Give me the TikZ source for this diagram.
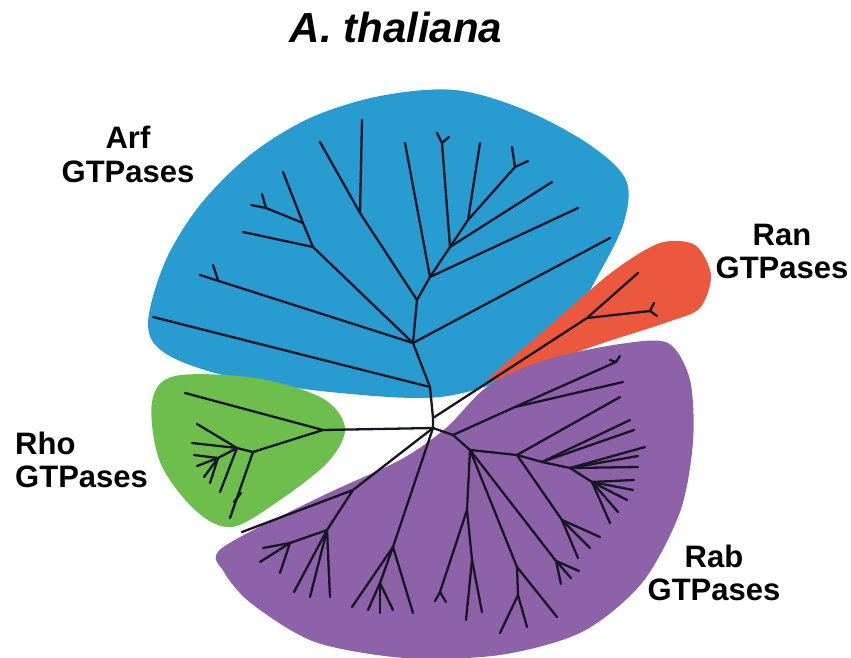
\documentclass[tikz,border=0pt]{standalone}
\usepackage{fontspec}
\setmainfont{Liberation Sans}
\usepackage{xcolor}
\usepackage{tikz}

\definecolor{arfblue}{RGB}{40,156,209}
\definecolor{ranred}{RGB}{236,88,62}
\definecolor{rhogreen}{RGB}{110,190,78}
\definecolor{rabpurple}{RGB}{141,98,168}
\definecolor{treeline}{RGB}{22,22,36}

\begin{document}
\begin{tikzpicture}[
  x=1pt, y=-1pt,
  blob/.style={draw=none},
  branch/.style={draw=treeline, line width=2.3pt, line cap=round, line join=round},
  label/.style={font=\fontsize{31}{33}\selectfont\bfseries, align=center, anchor=base, inner sep=0pt},
  title/.style={font=\fontsize{42}{44}\selectfont\bfseries\itshape, anchor=base, inner sep=0pt}
]
  \useasboundingbox (0,0) rectangle (851,658);

  % Blobs
  \fill[arfblue, blob] plot[smooth cycle, tension=0.55] coordinates {
    (148,325) (165,262) (200,205) (250,155) (310,118) (380,96) (455,90)
    (525,110) (590,145) (626,180) (624,222) (600,272) (565,330) (515,374)
    (440,397) (340,393) (235,378) (168,355)};
  \fill[ranred, blob] plot[smooth cycle, tension=0.5] coordinates {
    (488,380) (545,330) (612,272) (660,243) (695,245) (711,275) (700,308)
    (668,322) (600,344) (520,372)};
  \fill[rhogreen, blob] plot[smooth cycle, tension=0.55] coordinates {
    (152,402) (175,376) (255,378) (322,398) (345,428) (328,462) (280,500)
    (232,527) (195,510) (160,462)};
  \fill[rabpurple, blob] plot[smooth cycle, tension=0.5] coordinates {
    (222,548) (320,497) (400,460) (446,428) (488,386) (545,360) (620,344)
    (668,343) (690,380) (693,442) (680,512) (642,583) (582,632) (500,655)
    (405,658) (315,642) (252,604) (224,572)};

  % Labels
  \node[title] (ttl) at (396,43) {A. thaliana};
  \node[label] (arf) at (128,182) {Arf\\GTPases};
  \node[label] (ran) at (782,278) {Ran\\GTPases};
  \node[label, align=left, anchor=base west] (rho) at (15,487) {Rho\\GTPases};
  \node[label] (rab) at (714,600) {Rab\\GTPases};

  % Root
  \coordinate (r0) at (433,428);
  \coordinate (rr) at (433,418);
  \coordinate (a0) at (430,387);
  \draw[branch] (a0) -- (rr) -- (r0);

  % Arf
  \coordinate (a1) at (413,343);
  \coordinate (a2) at (417,300);
  \coordinate (a3) at (313,247);
  \coordinate (a4) at (303,223);
  \coordinate (a5) at (360,213);
  \coordinate (a6) at (430,277);
  \coordinate (a7) at (450,247);
  \coordinate (a8) at (468,220);
  \coordinate (a9) at (515,167);
  \draw[branch] (a0) -- (153,317);
  \draw[branch] (a0) -- (a1) -- (a2) -- (a6) -- (a7) -- (a8) -- (a9);
  \draw[branch] (a1) -- (200,275);
  \draw[branch] (218,280) -- (213,265);
  \draw[branch] (a1) -- (610,238);
  \draw[branch] (a1) -- (a3) -- (243,232);
  \draw[branch] (a3) -- (a4) -- (283,172);
  \draw[branch] (a4) -- (266,208) -- (251,205);
  \draw[branch] (266,208) -- (262,194);
  \draw[branch] (a2) -- (a5) -- (320,142);
  \draw[branch] (a5) -- (362,120);
  \draw[branch] (a6) -- (405,143);
  \draw[branch] (a6) -- (578,208);
  \draw[branch] (a7) -- (442,143) -- (437,133);
  \draw[branch] (442,143) -- (449,137);
  \draw[branch] (a7) -- (552,182);
  \draw[branch] (a8) -- (480,143);
  \draw[branch] (a9) -- (512,147);
  \draw[branch] (a9) -- (528,161);

  % Ran
  \coordinate (n1) at (587,318);
  \draw[branch] (rr) -- (n1) -- (638,273);
  \draw[branch] (n1) -- (650,311) -- (654,303);
  \draw[branch] (650,311) -- (657,316);

  % Rho
  \coordinate (g0) at (323,430);
  \coordinate (g1) at (253,452);
  \coordinate (g2) at (237,448);
  \coordinate (g3) at (218,458);
  \draw[branch] (r0) -- (g0) -- (185,393);
  \draw[branch] (g0) -- (g1) -- (230,518);
  \draw[branch] (234,502) -- (241,493);
  \draw[branch] (g1) -- (g2) -- (197,424);
  \draw[branch] (g2) -- (192,443);
  \draw[branch] (g2) -- (220,492);
  \draw[branch] (g2) -- (g3) -- (194,455);
  \draw[branch] (g3) -- (197,466);
  \draw[branch] (g3) -- (204,477);
  \draw[branch] (g3) -- (210,483);

  % Rab
  \coordinate (p0) at (453,435);
  \coordinate (p1) at (515,407);
  \coordinate (m1) at (470,450);
  \coordinate (m2) at (517,455);
  \coordinate (m3) at (542,462);
  \coordinate (m4) at (570,468);
  \coordinate (m5) at (592,482);
  \coordinate (l1) at (353,490);
  \coordinate (l2) at (327,530);
  \coordinate (l3) at (290,543);
  \coordinate (l4) at (393,547);
  \coordinate (l5) at (380,583);
  \coordinate (l6) at (467,510);
  \coordinate (l7) at (472,560);
  \coordinate (l8) at (517,567);
  \coordinate (l9) at (518,595);
  \coordinate (l10) at (556,561);
  \coordinate (l11) at (562,520);
  \draw[branch] (r0) -- (p0) -- (p1) -- (616,362) -- (610,360);
  \draw[branch] (616,362) -- (620,356);
  \draw[branch] (p1) -- (623,382);
  \draw[branch] (p0) -- (m1) -- (m2) -- (m3) -- (m4) -- (m5);
  \draw[branch] (m2) -- (620,397);
  \draw[branch] (m3) -- (630,420);
  \draw[branch] (m3) -- (634,430);
  \draw[branch] (m4) -- (645,447);
  \draw[branch] (m4) -- (638,456);
  \draw[branch] (m4) -- (638,467);
  \draw[branch] (m5) -- (634,480);
  \draw[branch] (m5) -- (633,490);
  \draw[branch] (m5) -- (627,500);
  \draw[branch] (m5) -- (618,512);
  \draw[branch] (m5) -- (610,523);
  \draw[branch] (m2) -- (l11) -- (600,537);
  \draw[branch] (l11) -- (590,548);
  \draw[branch] (l11) -- (578,558);
  \draw[branch] (m1) -- (l10) -- (579,571);
  \draw[branch] (l10) -- (571,578);
  \draw[branch] (l10) -- (561,584);
  \draw[branch] (m1) -- (l8) -- (557,617);
  \draw[branch] (l8) -- (l9) -- (527,627);
  \draw[branch] (l9) -- (500,633);
  \draw[branch] (m1) -- (l6) -- (440,592) -- (435,601);
  \draw[branch] (440,592) -- (446,602);
  \draw[branch] (l6) -- (l7) -- (482,612);
  \draw[branch] (l7) -- (466,620);
  \draw[branch] (r0) -- (l1) -- (242,532);
  \draw[branch] (l1) -- (l2) -- (330,597);
  \draw[branch] (l2) -- (310,597);
  \draw[branch] (l2) -- (294,592);
  \draw[branch] (l2) -- (l3) -- (263,548);
  \draw[branch] (l3) -- (260,562);
  \draw[branch] (l3) -- (280,573);
  \draw[branch] (r0) -- (l4) -- (413,613);
  \draw[branch] (l4) -- (352,607);
  \draw[branch] (l4) -- (l5) -- (368,610);
  \draw[branch] (l5) -- (380,613);
  \draw[branch] (l5) -- (393,610);
\end{tikzpicture}
\end{document}
